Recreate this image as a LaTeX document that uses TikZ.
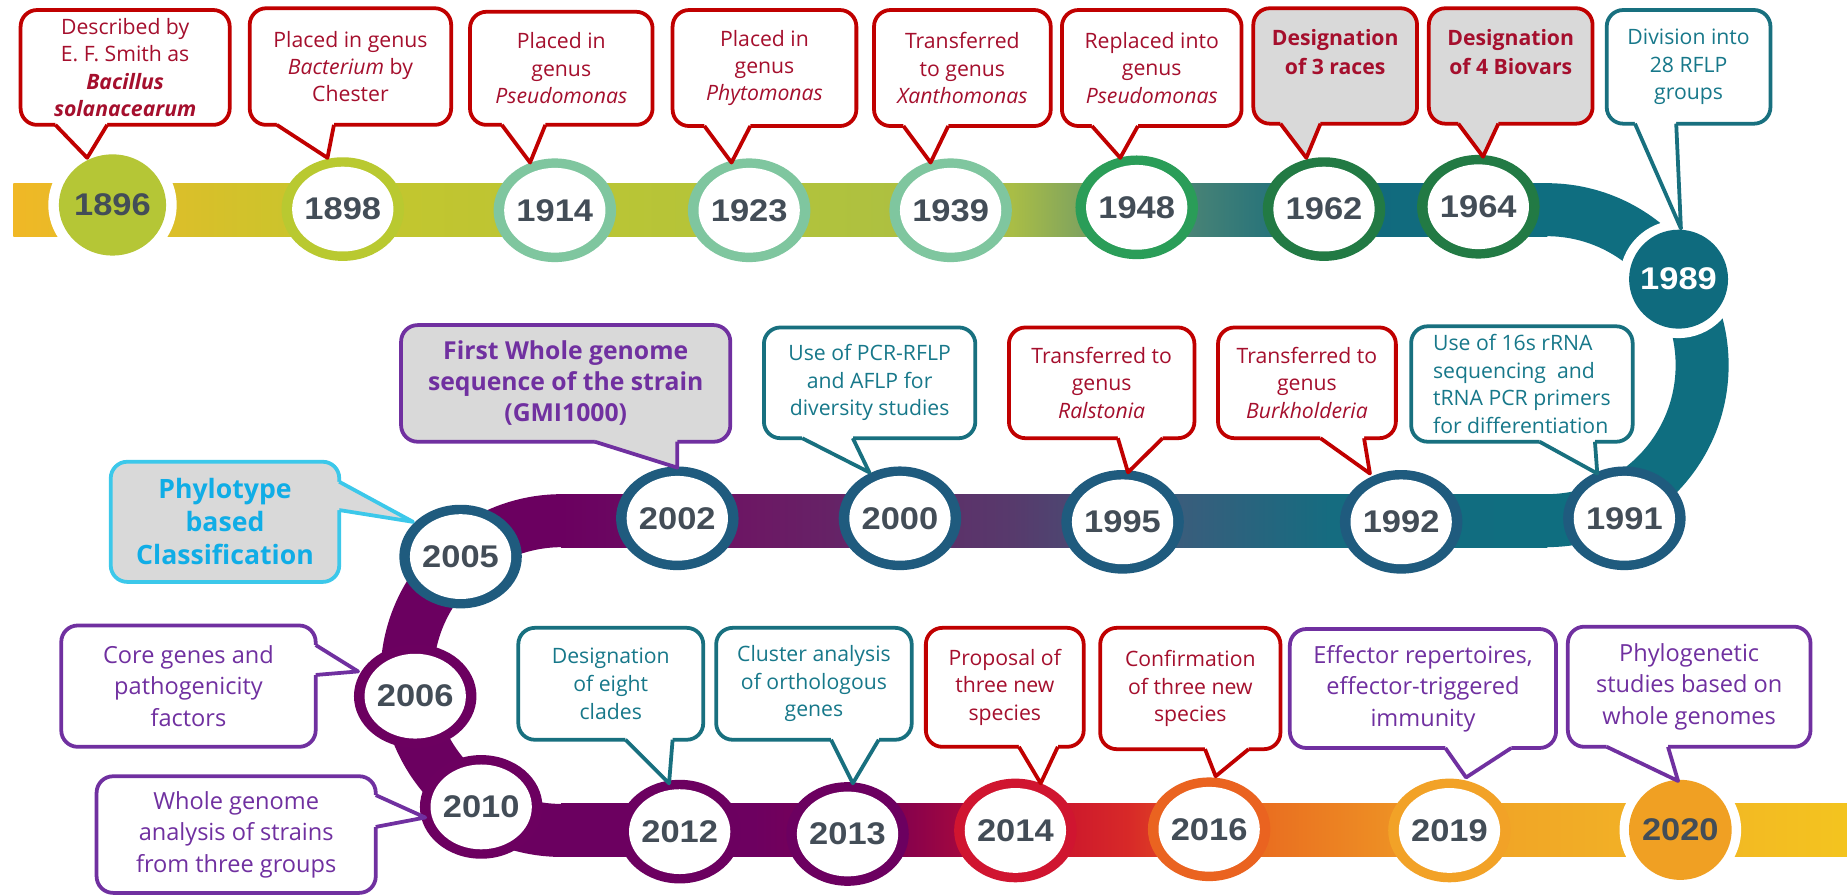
\documentclass[tikz,border=0pt]{standalone}
\usepackage{fontspec}
\setmainfont{Open Sans}
\newfontfamily\yrfont[FakeStretch=1.1]{Liberation Sans}
\usetikzlibrary{shapes.geometric}
% callout colours
\definecolor{bred}{HTML}{C00000}
\definecolor{tred}{HTML}{A50F2D}
\definecolor{bteal}{HTML}{18707F}
\definecolor{tteal}{HTML}{17788A}
\definecolor{bpur}{HTML}{7030A0}
\definecolor{tpur}{HTML}{7030A0}
\definecolor{bcyan}{HTML}{3CC8EA}
\definecolor{tcyan}{HTML}{10ADE6}
\definecolor{gfill}{HTML}{D9D9D9}
\definecolor{yrtxt}{HTML}{434D57}
% circle colours
\definecolor{cOlive}{HTML}{B5C636}
\definecolor{cLime}{HTML}{B9C930}
\definecolor{cMint}{HTML}{7FC69F}
\definecolor{cGreen}{HTML}{2A9D58}
\definecolor{cDkGreen}{HTML}{227A44}
\definecolor{cTeal}{HTML}{0F6B7E}
\definecolor{cSteel}{HTML}{1F5B7E}
\definecolor{cPurple}{HTML}{6C0060}
\definecolor{cRed}{HTML}{D01530}
\definecolor{cOrange}{HTML}{EA6320}
\definecolor{cAmber}{HTML}{F2A227}
\definecolor{cGold}{HTML}{F0A023}
% band colours
\definecolor{aA}{HTML}{F0B826}
\definecolor{aB}{HTML}{C5C62D}
\definecolor{aC}{HTML}{B3C43A}
\definecolor{aD}{HTML}{A9BD46}
\definecolor{aE}{HTML}{5B8C73}
\definecolor{aF}{HTML}{12697D}
\definecolor{bandTeal}{HTML}{0F6E80}
\definecolor{bandPur}{HTML}{6B0060}
\definecolor{mB}{HTML}{6C1864}
\definecolor{mC}{HTML}{573A6C}
\definecolor{mD}{HTML}{3A5D7C}
\definecolor{mE}{HTML}{156C80}
\definecolor{lB}{HTML}{6D0060}
\definecolor{lC}{HTML}{82004F}
\definecolor{lD}{HTML}{C8102E}
\definecolor{lE}{HTML}{D82A28}
\definecolor{lF}{HTML}{E8641F}
\definecolor{lG}{HTML}{F0A226}
\definecolor{lH}{HTML}{F2B226}
\definecolor{lI}{HTML}{F3C41F}

\tikzset{
  yr/.style={font={\yrfont\bfseries\fontsize{13.3}{14}\selectfont}, text=yrtxt, inner sep=0pt},
  ring/.style={yr, ellipse, minimum width=52pt, minimum height=44pt, fill=#1,
    path picture={\fill[white] (path picture bounding box.center) ellipse[x radius=21.5pt, y radius=18pt];}},
  dot/.style n args={5}{yr, ellipse, fill=white, minimum width=#2, minimum height=#3,
    path picture={\fill[#1] (path picture bounding box.center) ellipse[x radius=#4, y radius=#5];}},
  box/.style={rectangle, rounded corners=7pt, line width=1.6pt, inner sep=0pt, align=center},
  rbox/.style={box, draw=bred, fill=white, text=tred, font=\fontsize{9}{11.6}\selectfont},
  tbox/.style={box, draw=bteal, fill=white, text=tteal, font=\fontsize{9}{11.7}\selectfont},
  pbox/.style={box, draw=bpur, fill=white, text=tpur, font=\fontsize{10}{13.4}\selectfont},
  gbox/.style={box, draw=bred, fill=gfill, text=tred, font=\bfseries\fontsize{9}{12}\selectfont},
  ppbox/.style={box, draw=bpur, fill=gfill, text=tpur, font=\bfseries\fontsize{10.5}{13.2}\selectfont},
  cybox/.style={box, draw=bcyan, fill=gfill, text=tcyan, font=\bfseries\fontsize{11.3}{14}\selectfont},
}
% straight band piece with a two-colour shading
\newcommand\seg[5]{\shade[left color=#4, right color=#5] (#1-0.6,#3-22.5) rectangle (#2+0.6,#3+22.5);}
% callout box: name, style, x1, y1, x2, y2, text
\newcommand\cbox[7]{\node[#2, minimum width={(#5-#3)*0.5pt}, minimum height={(#6-#4)*0.5pt}] (#1) at ({(#3+#5)/2},{(#4+#6)/2}) {#7};}
% pointer below a box: fill, draw, xa, xb, ybottom, tip
\newcommand\ptrD[6]{\fill[#1] (#3,#5) -- (#6) -- (#4,#5) -- (#4,#5-2.5) -- (#3,#5-2.5) -- cycle;
  \draw[#2, line width=1.6pt, line join=round] (#3,#5) -- (#6) -- (#4,#5);}
% pointer on the right of a box: fill, draw, ya, yb, xright, tip
\newcommand\ptrR[6]{\fill[#1] (#5,#3) -- (#6) -- (#5,#4) -- (#5-2.5,#4) -- (#5-2.5,#3) -- cycle;
  \draw[#2, line width=1.6pt, line join=round] (#5,#3) -- (#6) -- (#5,#4);}

\begin{document}
\begin{tikzpicture}[x=0.5pt,y=-0.5pt]
\useasboundingbox (0,0) rectangle (1568,760);
\fill[white] (0,0) rectangle (1568,760);

% ---------- band ----------
\draw[line width=22.5pt, bandTeal] (1313,178) arc[start angle=-90, end angle=90, radius=132];
\draw[line width=22.5pt, bandPur] (477,442) arc[start angle=-90, end angle=-270, radius=131.5];
\seg{12}{290}{178}{aA}{aB}
\seg{290}{640}{178}{aB}{aC}
\seg{640}{860}{178}{aC}{aD}
\seg{860}{970}{178}{aD}{aE}
\seg{970}{1124}{178}{aE}{aF}
\seg{1124}{1313}{178}{aF}{bandTeal}
\seg{477}{640}{442}{bandPur}{mB}
\seg{640}{860}{442}{mB}{mC}
\seg{860}{1000}{442}{mC}{mD}
\seg{1000}{1130}{442}{mD}{mE}
\seg{1130}{1313}{442}{mE}{bandTeal}
\seg{477}{640}{705}{bandPur}{lB}
\seg{640}{760}{705}{lB}{lC}
\seg{760}{880}{705}{lC}{lD}
\seg{880}{960}{705}{lD}{lE}
\seg{960}{1040}{705}{lE}{lF}
\seg{1040}{1240}{705}{lF}{lG}
\seg{1240}{1400}{705}{lG}{lH}
\seg{1400}{1568}{705}{lH}{lI}

% ---------- year circles ----------
\node[dot={cOlive}{54.5pt}{52pt}{22.75pt}{21.5pt}] (y1896) at (95.5,174) {1896};
\node[ring=cLime] (y1898) at (291,177.5) {1898};
\node[ring=cMint] (y1914) at (471,178.5) {1914};
\node[ring=cMint] (y1923) at (636,178.5) {1923};
\node[ring=cMint] (y1939) at (807,178.5) {1939};
\node[ring=cGreen] (y1948) at (965,176) {1948};
\node[ring=cDkGreen] (y1962) at (1124,177.5) {1962};
\node[ring=cDkGreen] (y1964) at (1255,175.5) {1964};
\node[dot={cTeal}{50pt}{50pt}{21pt}{21pt}, text=white] (y1989) at (1425,237) {1989};
\node[ring=cSteel] (y1991) at (1379,440) {1991};
\node[ring=cSteel] (y1992) at (1189.5,443) {1992};
\node[ring=cSteel] (y1995) at (953,443) {1995};
\node[ring=cSteel] (y2000) at (764,440) {2000};
\node[ring=cSteel] (y2002) at (575,440) {2002};
\node[ring=cSteel] (y2005) at (391,472.5) {2005};
\node[ring=cPurple] (y2006) at (352.5,591) {2006};
\node[ring=cPurple] (y2010) at (408.5,685) {2010};
\node[ring=cPurple] (y2012) at (577,706) {2012};
\node[ring=cPurple] (y2013) at (719.5,708) {2013};
\node[ring=cRed] (y2014) at (862,705) {2014};
\node[ring=cOrange] (y2016) at (1026.5,704) {2016};
\node[ring=cAmber] (y2019) at (1230.5,705) {2019};
\node[dot={cGold}{51.6pt}{50.5pt}{21.8pt}{21.25pt}] (y2020) at (1426.5,704.5) {2020};

% ---------- pointer tips ----------
\coordinate (t1896) at (74,134);
\coordinate (t1898) at (278,134);
\coordinate (t1914) at (450,138);
\coordinate (t1923) at (621,138);
\coordinate (t1939) at (790,138);
\coordinate (t1948) at (951,134);
\coordinate (t1962) at (1109,134);
\coordinate (t1964) at (1259,133);
\coordinate (t1989) at (1427,194);
\coordinate (t1991) at (1356,402);
\coordinate (t1992) at (1163,402);
\coordinate (t1995) at (957.6,401);
\coordinate (t2000) at (738,401);
\coordinate (t2002) at (575,397);
\coordinate (t2005) at (350.6,443);
\coordinate (t2006) at (304,570);
\coordinate (t2010) at (361,694);
\coordinate (t2012) at (568,665);
\coordinate (t2013) at (724,665);
\coordinate (t2014) at (883.5,665);
\coordinate (t2016) at (1032,659);
\coordinate (t2019) at (1244.6,660);
\coordinate (t2020) at (1424.6,663);

% ---------- callouts ----------
\cbox{c1896}{rbox}{17.5}{8.5}{195}{106}{Described by\\E. F. Smith as\\{\bfseries\itshape Bacillus}\\{\bfseries\itshape solanacearum}}
\ptrD{white}{bred}{47}{91}{106}{t1896}
\cbox{c1898}{rbox}{212}{7}{383}{106}{Placed in genus\\\textit{Bacterium} by\\Chester}
\ptrD{white}{bred}{235}{283.5}{106}{t1898}
\cbox{c1914}{rbox}{399}{10}{554}{106}{Placed in\\genus\\\textit{Pseudomonas}}
\ptrD{white}{bred}{426}{463}{106}{t1914}
\cbox{c1923}{rbox}{571}{8.5}{727}{107}{Placed in\\genus\\\textit{Phytomonas}}
\ptrD{white}{bred}{598}{637}{107}{t1923}
\cbox{c1939}{rbox}{742}{8.5}{892}{107}{Transferred\\to genus\\\textit{Xanthomonas}}
\ptrD{white}{bred}{767}{805}{107}{t1939}
\cbox{c1948}{rbox}{901.5}{8.5}{1054}{107}{Replaced into\\genus\\\textit{Pseudomonas}}
\ptrD{white}{bred}{927}{966}{107}{t1948}
\cbox{c1962}{gbox}{1064}{7}{1203}{105}{Designation\\of 3 races\\~}
\ptrD{gfill}{bred}{1087}{1121}{105}{t1962}
\cbox{c1964}{gbox}{1213}{7}{1352}{105}{Designation\\of 4 Biovars\\~}
\ptrD{gfill}{bred}{1238}{1272}{105}{t1964}
\cbox{c1989}{tbox}{1364}{8.5}{1503}{105}{Division into\\28 RFLP\\groups}
\ptrD{white}{bteal}{1388}{1423}{105}{t1989}

\cbox{c1991}{tbox, align=left}{1198}{277}{1386}{375}{Use of 16s rRNA\\sequencing\ \ and\\tRNA PCR primers\\for differentiation}
\ptrD{white}{bteal}{1307}{1354}{375}{t1991}
\cbox{c1992}{rbox}{1034}{278}{1185}{372}{Transferred to\\genus\\\textit{Burkholderia}}
\ptrD{white}{bred}{1121}{1158}{372}{t1992}
\cbox{c1995}{rbox}{856.5}{278}{1014}{372}{Transferred to\\genus\\\textit{Ralstonia}}
\ptrD{white}{bred}{949}{987}{372}{t1995}
\cbox{c2000}{tbox}{648.5}{278}{828}{372}{Use of PCR-RFLP\\and AFLP for\\diversity studies}
\ptrD{white}{bteal}{681}{724}{372}{t2000}
\cbox{c2002}{ppbox}{340.5}{276}{620}{375}{First Whole genome\\sequence of the strain\\(GMI1000)}
\ptrD{gfill}{bpur}{505}{575}{375}{t2002}
\cbox{c2005}{cybox}{94}{392}{288}{494}{Phylotype\\based\\Classification}
\ptrR{gfill}{bcyan}{409}{433}{288}{t2005}

\cbox{c2006}{pbox}{52}{531}{268}{634}{Core genes and\\pathogenicity\\factors}
\ptrR{white}{bpur}{547.6}{573}{268}{t2006}
\cbox{c2010}{pbox}{82}{659}{319}{758}{Whole genome\\analysis of strains\\from three groups}
\ptrR{white}{bpur}{675}{702}{319}{t2010}
\cbox{c2012}{tbox}{440}{533}{597}{628}{Designation\\of eight\\clades}
\ptrD{white}{bteal}{531}{571}{628}{t2012}
\cbox{c2013}{tbox}{608}{533}{774}{628}{Cluster analysis\\of orthologous\\genes}
\ptrD{white}{bteal}{705.5}{746}{628}{t2013}
\cbox{c2014}{rbox}{786}{533}{920}{634}{Proposal of\\three new\\species}
\ptrD{white}{bred}{865}{898}{634}{t2014}
\cbox{c2016}{rbox}{934}{533}{1087}{636}{Confirmation\\of three new\\species}
\ptrD{white}{bred}{1023}{1060}{636}{t2016}
\cbox{c2019}{pbox}{1095}{534}{1321}{635}{Effector repertoires,\\effector-triggered\\immunity}
\ptrD{white}{bpur}{1227}{1283}{635}{t2019}
\cbox{c2020}{pbox}{1331}{532}{1537}{634}{Phylogenetic\\studies based on\\whole genomes}
\ptrD{white}{bpur}{1364}{1416}{634}{t2020}
\end{tikzpicture}
\end{document}
